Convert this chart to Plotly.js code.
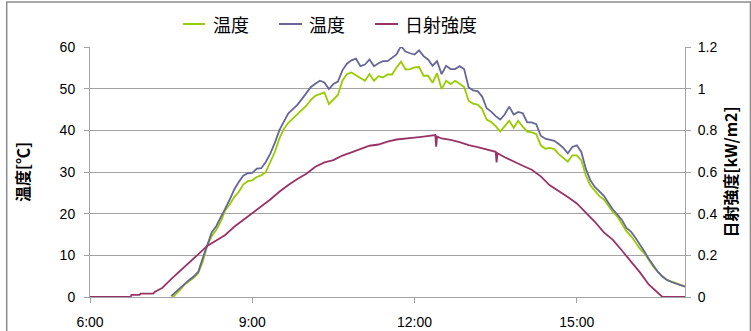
<!DOCTYPE html>
<html>
<head>
<meta charset="utf-8">
<script src="https://cdn.plot.ly/plotly-3.0.1.min.js"></script>
<style>
html,body{margin:0;padding:0;background:#fff;}
#chart{width:751px;height:331px;}
</style>
</head>
<body>
<div id="chart"></div>
<script>
// ---- Data ----
const seriesNames = ["温度", "温度", "日射強度"];

const tempTimes = ["7:30","7:35","7:40","7:45","7:50","7:55","8:00","8:05","8:10","8:15","8:20","8:25",
"8:30","8:35","8:40","8:45","8:50","8:55","9:00","9:05","9:10","9:15","9:20","9:25",
"9:30","9:35","9:40","9:45","9:50","9:55","10:00","10:05","10:10","10:15","10:20","10:25",
"10:30","10:35","10:40","10:45","10:50","10:55","11:00","11:05","11:10","11:15","11:20","11:25",
"11:30","11:35","11:40","11:45","11:50","11:55","12:00","12:05","12:10","12:15","12:20","12:25",
"12:30","12:35","12:40","12:45","12:50","12:55","13:00","13:05","13:10","13:15","13:20","13:25",
"13:30","13:35","13:40","13:45","13:50","13:55","14:00","14:05","14:10","14:15","14:20","14:25",
"14:30","14:35","14:40","14:45","14:50","14:55","15:00","15:05","15:10","15:15","15:20","15:25",
"15:30","15:35","15:40","15:45","15:50","15:55","16:00","16:05","16:10","16:15","16:20","16:25",
"16:30","16:35","16:40","16:45","16:50","16:55","17:00"];

const tempGreen = [-0.4,0.6,1.7,3.0,3.7,4.6,5.7,8.4,12.3,14.6,16.1,18.1,
20.8,22.2,24.0,25.2,27.0,27.8,28.0,28.8,29.2,30.0,32.4,34.8,
38.0,40.3,41.8,42.8,43.8,44.7,45.9,47.3,48.3,48.7,49.1,46.3,
47.3,48.5,51.9,53.5,53.9,53.2,52.7,51.9,53.5,51.9,53.0,52.7,
53.4,53.4,55.1,56.5,54.6,54.7,55.1,55.2,53.1,53.1,51.4,53.7,
49.9,51.9,51.1,51.9,51.2,50.4,47.1,46.4,46.2,45.1,42.6,42.0,
41.0,39.7,41.0,42.3,40.6,42.3,40.9,39.7,39.5,39.1,36.4,35.6,
35.8,35.5,34.3,33.5,32.5,34.0,34.0,32.8,29.2,26.8,25.6,24.2,
23.4,21.8,20.4,19.3,17.7,15.8,14.7,13.0,11.6,10.5,8.8,7.2,
6.0,4.9,4.1,3.7,3.3,2.9,2.5];

const tempPurple = [0.2,1.2,2.1,3.1,4.1,4.9,6.0,9.3,12.5,15.5,17.0,19.0,
21.2,23.4,25.8,27.6,29.1,29.7,29.8,30.8,30.9,32.4,34.4,37.0,
40.0,42.1,44.1,45.1,46.1,47.5,49.1,50.4,51.2,51.9,51.5,49.9,
51.1,51.7,54.4,56.0,56.8,57.2,55.4,55.8,57.0,55.4,56.1,56.6,
56.6,57.4,58.2,60.2,58.9,58.5,58.2,59.2,57.8,57.0,55.5,56.6,
53.5,55.5,54.7,54.7,55.4,54.7,50.3,49.6,49.4,48.1,45.3,44.5,
43.4,42.6,43.8,45.7,43.8,44.4,44.1,41.9,41.9,41.5,38.7,38.0,
37.7,37.5,36.7,35.8,34.5,36.0,36.4,34.8,30.8,28.0,26.4,25.3,
24.3,22.6,21.0,19.8,18.5,16.6,15.7,14.2,12.7,10.9,9.1,7.6,
6.0,4.9,4.1,3.6,3.2,2.8,2.5];

const solarTimes = ["6:00","6:45","6:46","6:55","6:56","7:10","7:12","7:20","7:30","7:40","7:50",
"8:00","8:10","8:20","8:30","8:40","8:50","9:00","9:10","9:20","9:30","9:40","9:50",
"10:00","10:10","10:20","10:30","10:40","10:50","11:00","11:10","11:20","11:30","11:40","11:50",
"12:00","12:10","12:20","12:23","12:24","12:25","12:30","12:40","12:50",
"13:00","13:10","13:20","13:30","13:31","13:32","13:40","13:50",
"14:00","14:10","14:20","14:30","14:40","14:50","15:00","15:10","15:20","15:30","15:40","15:50",
"16:00","16:10","16:20","16:30","16:35","17:00"];

const solarValues = [0,0,0.01,0.01,0.016,0.016,0.025,0.043,0.086,0.127,0.165,
0.205,0.245,0.27,0.298,0.337,0.369,0.404,0.436,0.468,0.505,0.538,0.566,
0.592,0.625,0.646,0.657,0.679,0.694,0.71,0.726,0.732,0.746,0.756,0.759,
0.765,0.77,0.775,0.777,0.722,0.77,0.761,0.754,0.743,
0.729,0.719,0.708,0.697,0.646,0.69,0.671,0.649,
0.63,0.611,0.579,0.536,0.509,0.48,0.449,0.404,0.361,0.31,0.274,0.223,
0.17,0.118,0.059,0.019,0,0];

const xTickVals = ["6:00","9:00","12:00","15:00"];

// ---- helpers ----
function toDate(t){
  const p = t.split(":");
  const h = p[0].padStart(2,"0");
  return "2000-01-01 " + h + ":" + p[1] + ":00";
}

const fontFamily = '"Liberation Sans", Arial, "Noto Sans CJK JP", sans-serif';
const jpFont = '"Noto Sans CJK JP", "Liberation Sans", sans-serif';
const gridColor = "#a3a3a3";
const colors = ["#99cc00", "#666699", "#993366"];

const traces = [
  {x: tempTimes.map(toDate), y: tempGreen, name: seriesNames[0], type: "scatter", mode: "lines",
   line: {color: colors[0], width: 1.8}, yaxis: "y"},
  {x: tempTimes.map(toDate), y: tempPurple, name: seriesNames[1], type: "scatter", mode: "lines",
   line: {color: colors[1], width: 1.8}, yaxis: "y"},
  {x: solarTimes.map(toDate), y: solarValues, name: seriesNames[2], type: "scatter", mode: "lines",
   line: {color: colors[2], width: 1.8}, yaxis: "y2"}
];

// legend keys (decoration, paper coordinates)
const legendKeyX = [[0.1563, 0.1933, 0.2034], [0.3176, 0.3563, 0.3647], [0.4790, 0.5176, 0.5261]];
const legendY = 1.092;
const legendShapes = legendKeyX.map((k, i) => ({
  type: "line", xref: "paper", yref: "paper", x0: k[0], x1: k[1], y0: legendY, y1: legendY,
  line: {color: colors[i], width: 2}
}));
const legendAnn = legendKeyX.map((k, i) => ({
  xref: "paper", yref: "paper", x: k[2], y: legendY, xanchor: "left", yanchor: "middle",
  text: seriesNames[i], showarrow: false,
  font: {family: jpFont, size: 18, color: "#000"}
}));

const layout = {
  width: 751, height: 331,
  margin: {l: 90, r: 66, t: 47, b: 34, pad: 0},
  paper_bgcolor: "#ffffff",
  plot_bgcolor: "#ffffff",
  font: {family: fontFamily, size: 14, color: "#000"},
  showlegend: false,
  xaxis: {
    type: "date",
    range: [toDate("6:00"), toDate("17:00")],
    tickmode: "array",
    tickvals: xTickVals.map(toDate),
    ticktext: xTickVals,
    showgrid: false, zeroline: false,
    showline: true, linecolor: gridColor, linewidth: 1,
    ticks: "outside", ticklen: 5, tickcolor: gridColor,
    ticklabelstandoff: 7,
    tickfont: {family: fontFamily, size: 14}
  },
  yaxis: {
    range: [0, 60], dtick: 10, tick0: 0,
    showgrid: true, gridcolor: gridColor, gridwidth: 1,
    zeroline: false,
    showline: true, linecolor: gridColor, linewidth: 1,
    ticks: "outside", ticklen: 5, tickcolor: gridColor,
    ticklabelstandoff: 6,
    tickfont: {family: fontFamily, size: 14},
    title: {text: "温度[℃]", font: {family: jpFont, size: 16, weight: "bold"}, standoff: 26}
  },
  yaxis2: {
    range: [0, 1.2], dtick: 0.2, tick0: 0,
    overlaying: "y", side: "right",
    showgrid: false, zeroline: false,
    showline: true, linecolor: gridColor, linewidth: 1,
    ticks: "outside", ticklen: 5, tickcolor: gridColor,
    ticklabelstandoff: 4,
    tickfont: {family: fontFamily, size: 14},
    title: {text: "日射強度[kW/m2]", font: {family: jpFont, size: 16, weight: "bold"}, standoff: 9}
  },
  shapes: [
    {type: "rect", xref: "paper", yref: "paper",
     x0: -0.14, x1: 1.11, y0: -0.2, y1: 1.18,
     line: {color: "#8c8c8c", width: 1.5}, fillcolor: "rgba(0,0,0,0)", layer: "below"}
  ].concat(legendShapes),
  annotations: legendAnn
};

Plotly.newPlot("chart", traces, layout, {staticPlot: true, displayModeBar: false});
</script>
</body>
</html>
